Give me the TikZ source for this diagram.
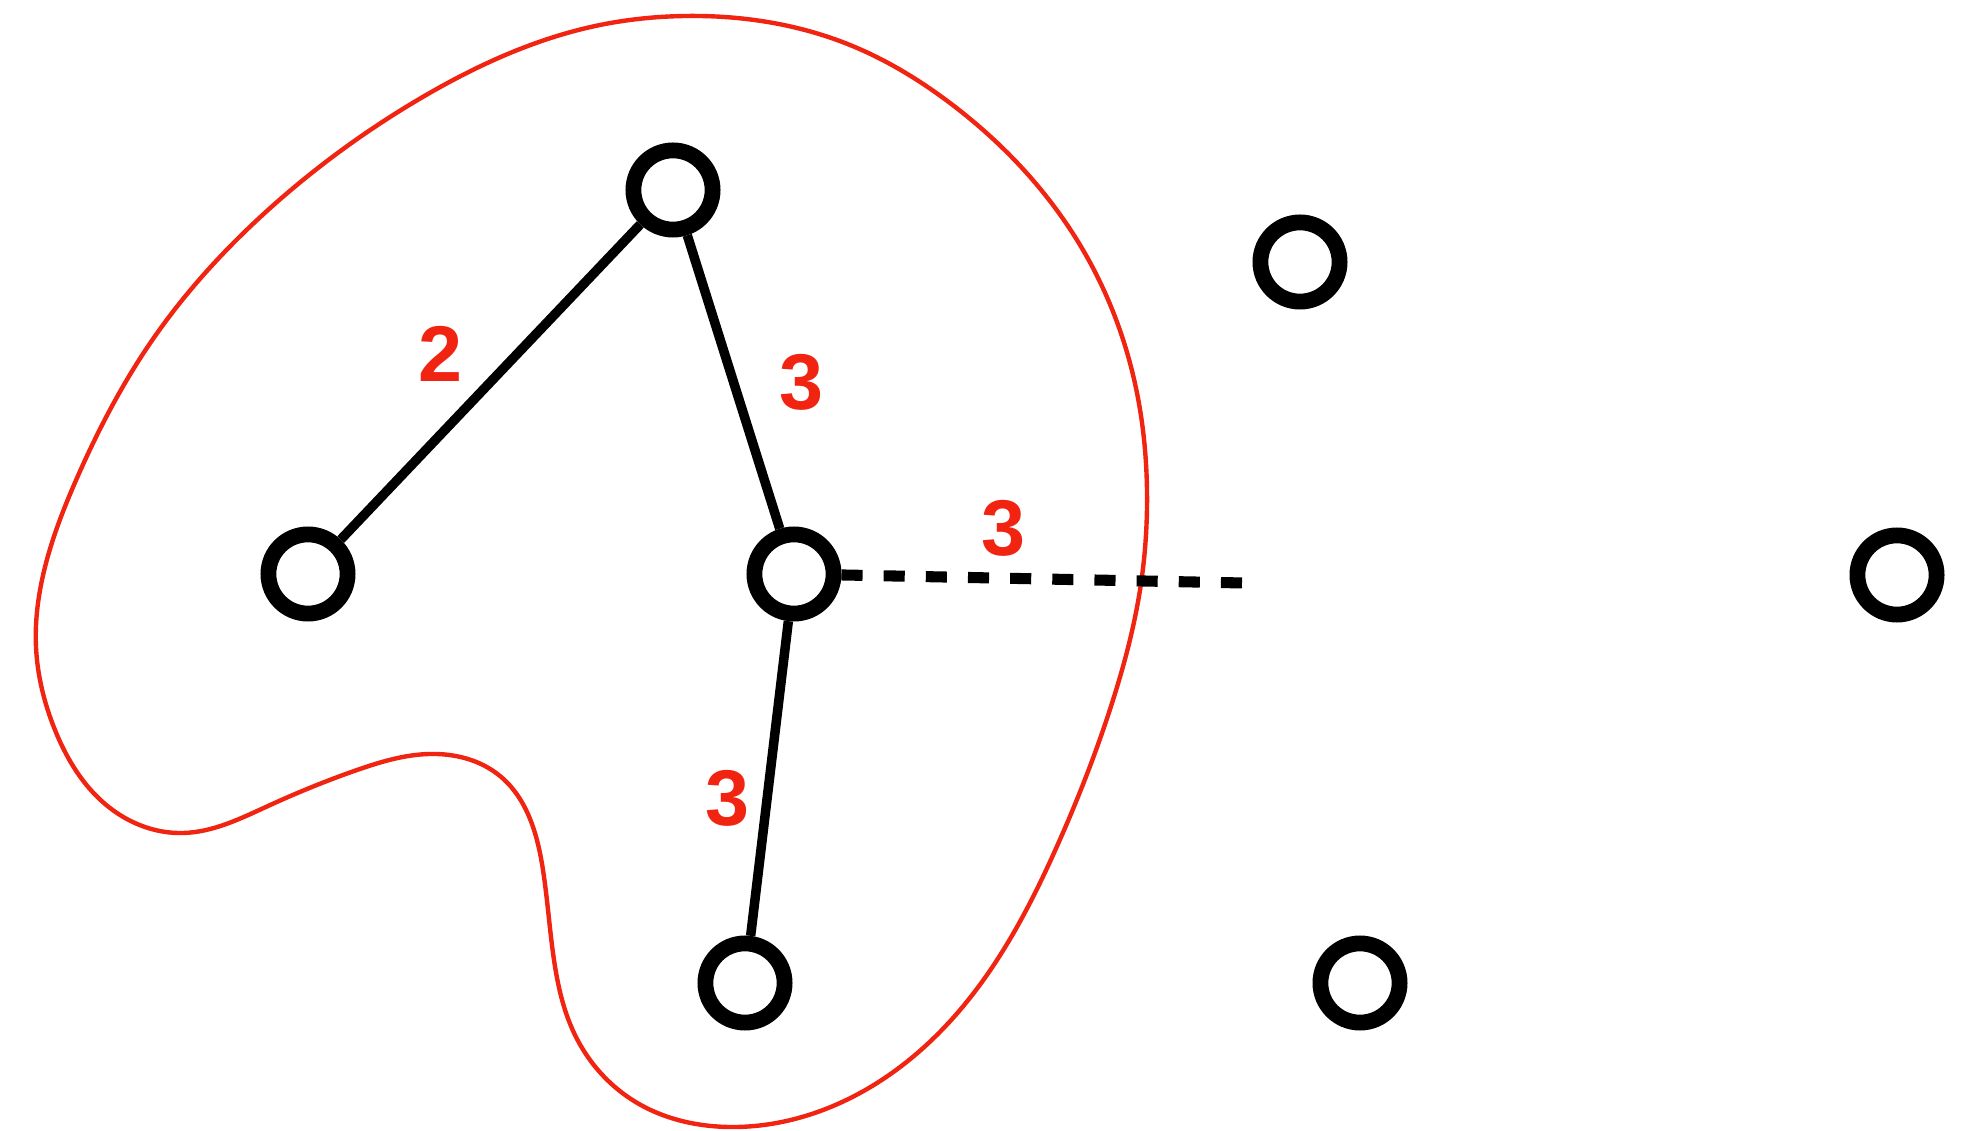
\documentclass[tikz,border=0pt]{standalone}
\usepackage{fontspec}
\setmainfont{Liberation Sans}
\usepackage{tikz}
\usetikzlibrary{positioning,hobby}
\definecolor{cutred}{RGB}{240,36,16}

\begin{document}
\begin{tikzpicture}[x=0.02cm,y=-0.02cm,
  vert/.style={circle,draw,line width=9pt,minimum size=1.584cm,inner sep=0pt},
  wt/.style={text=cutred,inner sep=0pt,font=\fontsize{45}{54}\selectfont\bfseries},
  edge/.style={line width=5.4pt},
  cand/.style={line width=6.3pt,dash pattern=on 12pt off 12pt}]
\useasboundingbox (0,0) rectangle (1972,1131);
% the cut around the tree
\draw[cutred,line width=2.5pt,use Hobby shortcut,closed=true]
  (685,16) .. (850,45) .. (950,103) .. (1083,250) .. (1137,393) .. (1147,491)
  .. (1140,590) .. (1113,700) .. (1058,844) .. (960,1010) .. (860,1093)
  .. (730,1127) .. (634,1101) .. (575,1035) .. (554,960) .. (543,870)
  .. (500,776) .. (429,754) .. (357,770) .. (268,806) .. (183,833) .. (110,808)
  .. (55,730) .. (36,647) .. (42,580) .. (77,478) .. (153,339) .. (268,210)
  .. (421,98) .. (600,25);
\foreach \n/\x/\y in {t/673/190, l/308/574, m/794/574, b/745/983, p/1300/262, q/1897/575, r/1360/983}
  \node[vert] (\n) at (\x,\y) {};
\coordinate (e) at (1244,583);
\draw[edge] (l) -- (t);
\draw[edge] (t) -- (m);
\draw[edge] (m) -- (b);
\draw[cand] (m) -- (e);
\node[wt] (w1) at (440,354) {2};
\node[wt] (w2) at (801,382) {3};
\node[wt] (w3) at (1003,528) {3};
\node[wt] (w4) at (727,798) {3};
\end{tikzpicture}
\end{document}
